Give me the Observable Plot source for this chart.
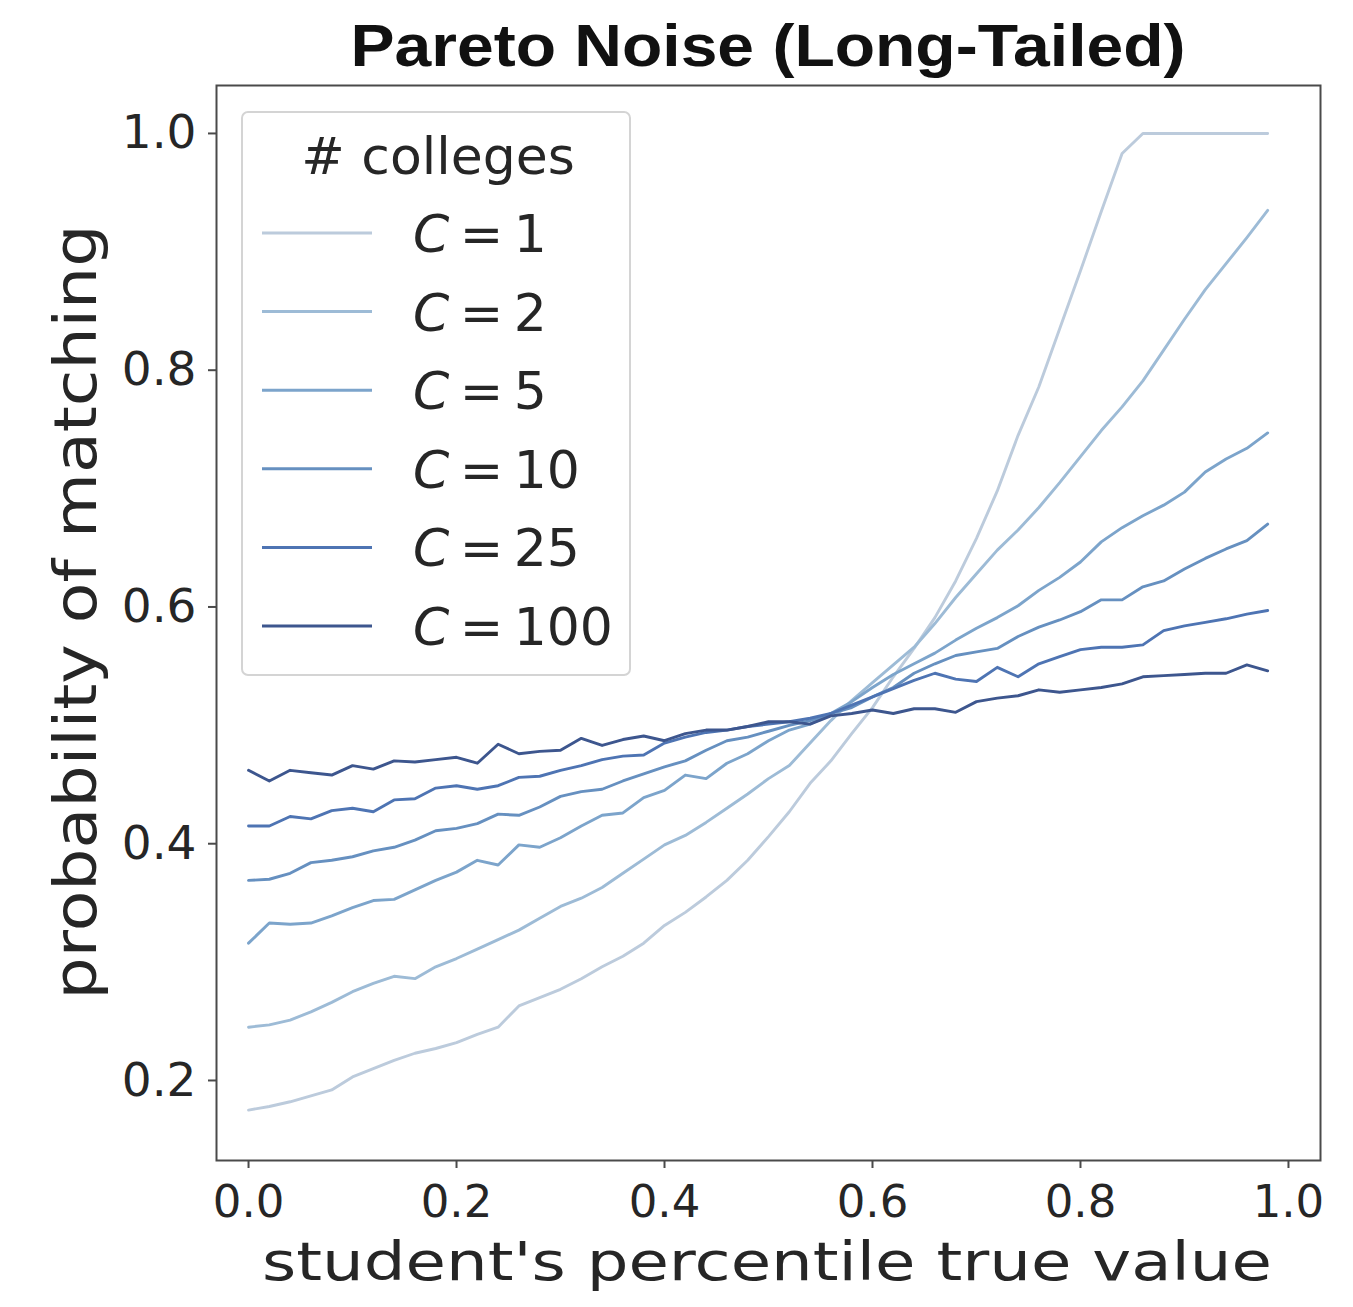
<!DOCTYPE html>
<html>
<head>
<meta charset="utf-8">
<script src="https://cdn.jsdelivr.net/npm/d3@7"></script>
<script src="https://cdn.jsdelivr.net/npm/@observablehq/plot@0.6"></script>
<style>
  html, body { margin: 0; padding: 0; background: #fff; }
  #chart { width: 1353px; height: 1307px; }
</style>
</head>
<body>
<div id="chart"></div>
<script>
// Student percentile (true value) at which the matching probability was estimated
const percentile = [
  0.00, 0.02, 0.04, 0.06, 0.08, 0.10, 0.12, 0.14, 0.16, 0.18,
  0.20, 0.22, 0.24, 0.26, 0.28, 0.30, 0.32, 0.34, 0.36, 0.38,
  0.40, 0.42, 0.44, 0.46, 0.48, 0.50, 0.52, 0.54, 0.56, 0.58,
  0.60, 0.62, 0.64, 0.66, 0.68, 0.70, 0.72, 0.74, 0.76, 0.78,
  0.80, 0.82, 0.84, 0.86, 0.88, 0.90, 0.92, 0.94, 0.96, 0.98
];

// Number of colleges per series
const collegeCounts = ["1", "2", "5", "10", "25", "100"];

// Probability of matching, one array per number of colleges
const probC1 = [
  0.175, 0.178, 0.182, 0.187, 0.192, 0.203, 0.210, 0.217, 0.223, 0.227,
  0.232, 0.239, 0.245, 0.263, 0.270, 0.277, 0.286, 0.296, 0.305, 0.316,
  0.331, 0.342, 0.355, 0.369, 0.386, 0.406, 0.427, 0.451, 0.470, 0.493,
  0.515, 0.541, 0.565, 0.591, 0.622, 0.658, 0.698, 0.745, 0.786, 0.835,
  0.884, 0.934, 0.983, 1.000, 1.000, 1.000, 1.000, 1.000, 1.000, 1.000
];
const probC2 = [
  0.245, 0.247, 0.251, 0.258, 0.266, 0.275, 0.282, 0.288, 0.286, 0.296,
  0.303, 0.311, 0.319, 0.327, 0.337, 0.347, 0.354, 0.363, 0.375, 0.387,
  0.399, 0.407, 0.418, 0.430, 0.442, 0.455, 0.466, 0.485, 0.504, 0.521,
  0.536, 0.551, 0.566, 0.586, 0.608, 0.628, 0.648, 0.665, 0.684, 0.705,
  0.727, 0.749, 0.769, 0.791, 0.817, 0.843, 0.868, 0.890, 0.912, 0.935
];
const probC5 = [
  0.316, 0.333, 0.332, 0.333, 0.339, 0.346, 0.352, 0.353, 0.361, 0.369,
  0.376, 0.386, 0.382, 0.399, 0.397, 0.405, 0.415, 0.424, 0.426, 0.439,
  0.445, 0.458, 0.455, 0.468, 0.476, 0.487, 0.496, 0.501, 0.510, 0.520,
  0.532, 0.543, 0.552, 0.561, 0.572, 0.582, 0.591, 0.601, 0.614, 0.625,
  0.638, 0.655, 0.667, 0.677, 0.686, 0.697, 0.714, 0.725, 0.734, 0.747
];
const probC10 = [
  0.369, 0.370, 0.375, 0.384, 0.386, 0.389, 0.394, 0.397, 0.403, 0.411,
  0.413, 0.417, 0.425, 0.424, 0.431, 0.440, 0.444, 0.446, 0.453, 0.459,
  0.465, 0.470, 0.479, 0.487, 0.490, 0.495, 0.500, 0.504, 0.510, 0.515,
  0.524, 0.532, 0.544, 0.552, 0.559, 0.562, 0.565, 0.575, 0.583, 0.589,
  0.596, 0.606, 0.606, 0.617, 0.622, 0.632, 0.641, 0.649, 0.656, 0.670
];
const probC25 = [
  0.415, 0.415, 0.423, 0.421, 0.428, 0.430, 0.427, 0.437, 0.438, 0.447,
  0.449, 0.446, 0.449, 0.456, 0.457, 0.462, 0.466, 0.471, 0.474, 0.475,
  0.485, 0.490, 0.494, 0.496, 0.499, 0.501, 0.503, 0.506, 0.510, 0.517,
  0.524, 0.531, 0.538, 0.544, 0.539, 0.537, 0.549, 0.541, 0.552, 0.558,
  0.564, 0.566, 0.566, 0.568, 0.580, 0.584, 0.587, 0.590, 0.594, 0.597
];
const probC100 = [
  0.462, 0.453, 0.462, 0.460, 0.458, 0.466, 0.463, 0.470, 0.469, 0.471,
  0.473, 0.468, 0.484, 0.476, 0.478, 0.479, 0.489, 0.483, 0.488, 0.491,
  0.487, 0.493, 0.496, 0.496, 0.499, 0.503, 0.503, 0.501, 0.508, 0.510,
  0.513, 0.510, 0.514, 0.514, 0.511, 0.520, 0.523, 0.525, 0.530, 0.528,
  0.530, 0.532, 0.535, 0.541, 0.542, 0.543, 0.544, 0.544, 0.551, 0.546
];

// Sequential blues, light for few colleges, dark for many
const seriesColors = ["#bccbdc", "#9dbbd6", "#7ca4cb", "#6690c0", "#4e74b3", "#3d568e"];

const xTicks = [0, 0.2, 0.4, 0.6, 0.8, 1.0];
const yTicks = [0.2, 0.4, 0.6, 0.8, 1.0];

const seriesValues = [probC1, probC2, probC5, probC10, probC25, probC100];
const rows = [];
seriesValues.forEach((vals, k) => {
  vals.forEach((v, i) => rows.push({ percentile: percentile[i], prob: v, C: collegeCounts[k] }));
});

const W = 1353, H = 1307;
const M = { left: 216, right: 33, top: 85, bottom: 147 };
const ink = "#262626";
const spine = "#4a4a4a";

const chart = Plot.plot({
  width: W,
  height: H,
  marginLeft: M.left,
  marginRight: M.right,
  marginTop: M.top,
  marginBottom: M.bottom,
  style: { fontFamily: "DejaVu Sans", background: "#fff", color: ink, overflow: "visible" },
  x: { domain: [-0.0308, 1.0308] },
  y: { domain: [0.1324, 1.0405] },
  color: { domain: collegeCounts, range: seriesColors },
  marks: [
    Plot.line(rows, {
      x: "percentile", y: "prob", z: "C", stroke: "C",
      strokeWidth: 2.9, strokeLinejoin: "round", strokeLinecap: "round"
    }),
    Plot.frame({ stroke: spine, strokeWidth: 2 }),
    Plot.axisX({
      ticks: xTicks, tickFormat: d3.format(".1f"), tickSize: 8, tickPadding: 17,
      fontSize: 45, label: null, stroke: spine, strokeWidth: 2
    }),
    Plot.axisY({
      ticks: yTicks, tickFormat: d3.format(".1f"), tickSize: 8, tickPadding: 12,
      fontSize: 47, label: null, stroke: spine, strokeWidth: 2
    })
  ]
});

document.getElementById("chart").appendChild(chart);

const svg = d3.select(chart);
svg.selectAll("[aria-label='x-axis tick label'] text").style("font-size", "45px").attr("fill", ink);
svg.selectAll("[aria-label='y-axis tick label'] text").style("font-size", "47px").attr("fill", ink);

// Title
svg.append("text")
  .attr("x", 768).attr("y", 66)
  .attr("text-anchor", "middle")
  .attr("font-family", "Liberation Sans, Arial, sans-serif")
  .attr("font-weight", "bold")
  .attr("font-size", 60)
  .attr("textLength", 835).attr("lengthAdjust", "spacingAndGlyphs")
  .attr("fill", "#111")
  .text("Pareto Noise (Long-Tailed)");

// Axis titles
svg.append("text")
  .attr("x", 767).attr("y", 1280)
  .attr("text-anchor", "middle")
  .attr("font-family", "DejaVu Sans")
  .attr("font-size", 54)
  .attr("textLength", 1010).attr("lengthAdjust", "spacingAndGlyphs")
  .attr("fill", ink)
  .text("student's percentile true value");

svg.append("text")
  .attr("transform", "translate(96,612) rotate(-90)")
  .attr("text-anchor", "middle")
  .attr("font-family", "DejaVu Sans")
  .attr("font-size", 58)
  .attr("textLength", 775).attr("lengthAdjust", "spacingAndGlyphs")
  .attr("fill", ink)
  .text("probability of matching");

// Legend
const legend = svg.append("g").attr("font-family", "DejaVu Sans").attr("fill", ink);
legend.append("rect")
  .attr("x", 242).attr("y", 112).attr("width", 388).attr("height", 563)
  .attr("rx", 6).attr("fill", "#fff").attr("fill-opacity", 0.85)
  .attr("stroke", "#d4d4d4").attr("stroke-width", 2);
legend.append("text")
  .attr("x", 438).attr("y", 174)
  .attr("text-anchor", "middle").attr("font-size", 52)
  .text("# colleges");
const rowY0 = 233, rowStep = 78.6;
collegeCounts.forEach((c, k) => {
  const yy = rowY0 + k * rowStep;
  legend.append("line")
    .attr("x1", 262).attr("x2", 372).attr("y1", yy).attr("y2", yy)
    .attr("stroke", seriesColors[k]).attr("stroke-width", 3);
  const t = legend.append("text")
    .attr("x", 413).attr("y", yy + 19)
    .attr("text-anchor", "start")
    .attr("font-size", 52);
  t.append("tspan").attr("font-style", "italic").text("C");
  t.append("tspan").text("\u2009=\u2009" + c);
});
</script>
</body>
</html>
